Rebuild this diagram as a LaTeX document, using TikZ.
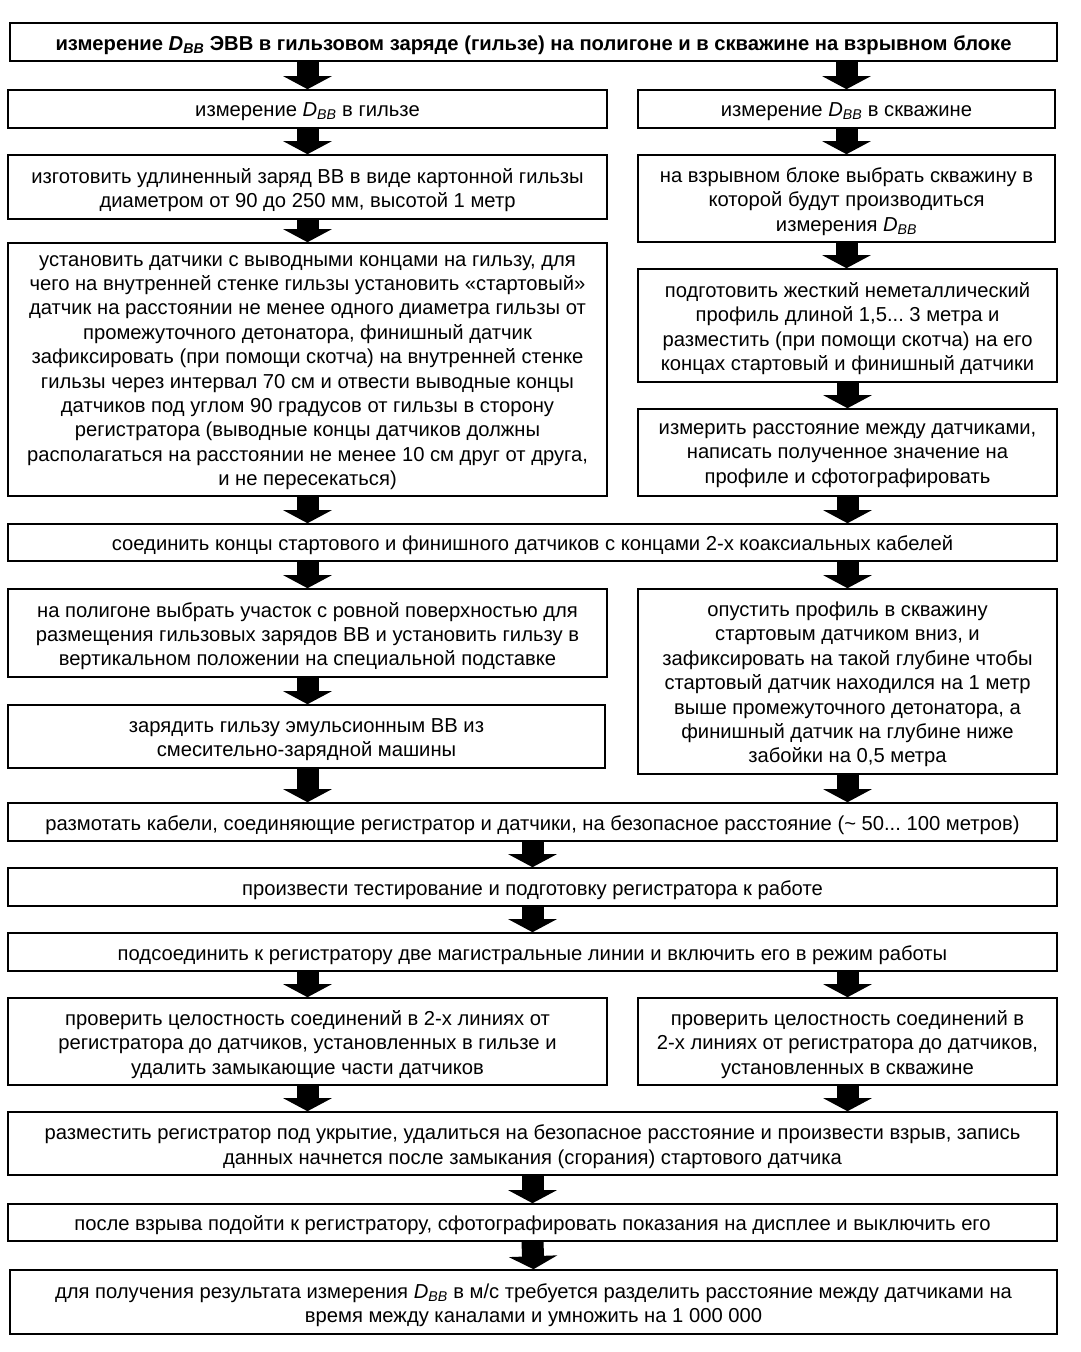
\documentclass[tikz,border=0pt]{standalone}
\usepackage{fontspec}
\setmainfont{Liberation Sans}
\usetikzlibrary{arrows.meta}
\frenchspacing
\newcommand{\Dbb}{\textit{D}\textsubscript{\textit{BB}}}
\tikzset{
  box/.style={draw=black, line width=1.6pt, inner sep=0pt},
  txt/.style={inner sep=0pt, align=center, font=\fontsize{20.2}{24.4}\selectfont\frenchspacing},
  flow/.style={line width=22pt, black, -{Triangle[width=48pt,length=13pt]}},
}
\newcommand{\bx}[6]{%
  \node[box,minimum width={(#4-#2)*1pt},minimum height={(#5-#3)*1pt}] (#1) at ({(#2+#4)/2},{(#3+#5)/2}) {};
  \node[txt] (#1t) at ([yshift=-3pt]#1.center) {#6};}
\begin{document}
\begin{tikzpicture}[x=1pt,y=-1pt]
\useasboundingbox (0,0) rectangle (1080,1352);
\fill[white] (0,0) rectangle (1080,1352);
\bx{top}{10}{23}{1057}{61}{\bfseries измерение \Dbb{} ЭВВ в гильзовом заряде (гильзе) на полигоне и в скважине на взрывном блоке}
\bx{l2}{8}{90}{607}{128}{измерение \Dbb{} в гильзе}
\bx{r2}{638}{90}{1055}{128}{измерение \Dbb{} в скважине}
\bx{l3}{8}{155}{607}{219}{изготовить удлиненный заряд ВВ в виде картонной гильзы\\диаметром от 90 до 250 мм, высотой 1 метр}
\bx{r3}{638}{155}{1055}{242}{на взрывном блоке выбрать скважину в\\которой будут производиться\\измерения \Dbb}
\bx{l4}{8}{243}{607}{496}{установить датчики с выводными концами на гильзу, для\\чего на внутренней стенке гильзы установить «стартовый»\\датчик на расстоянии не менее одного диаметра гильзы от\\промежуточного детонатора, финишный датчик\\зафиксировать (при помощи скотча) на внутренней стенке\\гильзы через интервал 70 см и отвести выводные концы\\датчиков под углом 90 градусов от гильзы в сторону\\регистратора (выводные концы датчиков должны\\располагаться на расстоянии не менее 10 см друг от друга,\\и не пересекаться)}
\bx{r4}{638}{269}{1057}{382}{подготовить жесткий неметаллический\\профиль длиной 1,5... 3 метра и\\разместить (при помощи скотча) на его\\концах стартовый и финишный датчики}
\bx{r5}{638}{409}{1057}{496}{измерить расстояние между датчиками,\\написать полученное значение на\\профиле и сфотографировать}
\bx{w1}{8}{524}{1057}{561}{соединить концы стартового и финишного датчиков с концами 2-х коаксиальных кабелей}
\bx{l6}{8}{589}{607}{677}{на полигоне выбрать участок с ровной поверхностью для\\размещения гильзовых зарядов ВВ и установить гильзу в\\вертикальном положении на специальной подставке}
\bx{r6}{638}{589}{1057}{774}{опустить профиль в скважину\\стартовым датчиком вниз, и\\зафиксировать на такой глубине чтобы\\стартовый датчик находился на 1 метр\\выше промежуточного детонатора, а\\финишный датчик на глубине ниже\\забойки на 0,5 метра}
\bx{l7}{8}{705}{605}{768}{зарядить гильзу эмульсионным ВВ из\\смесительно-зарядной машины}
\bx{w2}{8}{803}{1057}{841}{размотать кабели, соединяющие регистратор и датчики, на безопасное расстояние (\textasciitilde{} 50... 100 метров)}
\bx{w3}{8}{868}{1057}{906}{произвести тестирование и подготовку регистратора к работе}
\bx{w4}{8}{933}{1057}{971}{подсоединить к регистратору две магистральные линии и включить его в режим работы}
\bx{l8}{8}{998}{607}{1085}{проверить целостность соединений в 2-х линиях от\\регистратора до датчиков, установленных в гильзе и\\удалить замыкающие части датчиков}
\bx{r8}{638}{998}{1057}{1085}{проверить целостность соединений в\\2-х линиях от регистратора до датчиков,\\установленных в скважине}
\bx{w5}{8}{1112}{1057}{1175}{разместить регистратор под укрытие, удалиться на безопасное расстояние и произвести взрыв, запись\\данных начнется после замыкания (сгорания) стартового датчика}
\bx{w6}{8}{1204}{1057}{1241}{после взрыва подойти к регистратору, сфотографировать показания на дисплее и выключить его}
\bx{w7}{10}{1270}{1057}{1334}{для получения результата измерения \Dbb{} в м/с требуется разделить расстояние между датчиками на\\время между каналами и умножить на 1 000 000}
% connectors
\draw[flow] (top.south -| l2.north) -- (l2.north);
\draw[flow] (top.south -| r2.north) -- (r2.north);
\draw[flow] (l2.south) -- (l3.north);
\draw[flow] (r2.south) -- (r2.south |- r3.north);
\draw[flow] (l3.south) -- (l4.north);
\draw[flow] (r3.south) -- (r3.south |- r4.north);
\draw[flow] (r4.south) -- (r5.north);
\draw[flow] (l4.south) -- (l4.south |- w1.north);
\draw[flow] (r5.south) -- (r5.south |- w1.north);
\draw[flow] (w1.south -| l6.north) -- (l6.north);
\draw[flow] (w1.south -| r6.north) -- (r6.north);
\draw[flow] (l6.south) -- (l6.south |- l7.north);
\draw[flow] (l6.south |- l7.south) -- (l6.south |- w2.north);
\draw[flow] (r6.south) -- (r6.south |- w2.north);
\draw[flow] (w2.south) -- (w3.north);
\draw[flow] (w3.south) -- (w4.north);
\draw[flow] (w4.south -| l8.north) -- (l8.north);
\draw[flow] (w4.south -| r8.north) -- (r8.north);
\draw[flow] (l8.south) -- (l8.south |- w5.north);
\draw[flow] (r8.south) -- (r8.south |- w5.north);
\draw[flow] (w5.south) -- (w6.north);
\draw[flow] (w6.south) -- (w7.north);
\end{tikzpicture}
\end{document}
